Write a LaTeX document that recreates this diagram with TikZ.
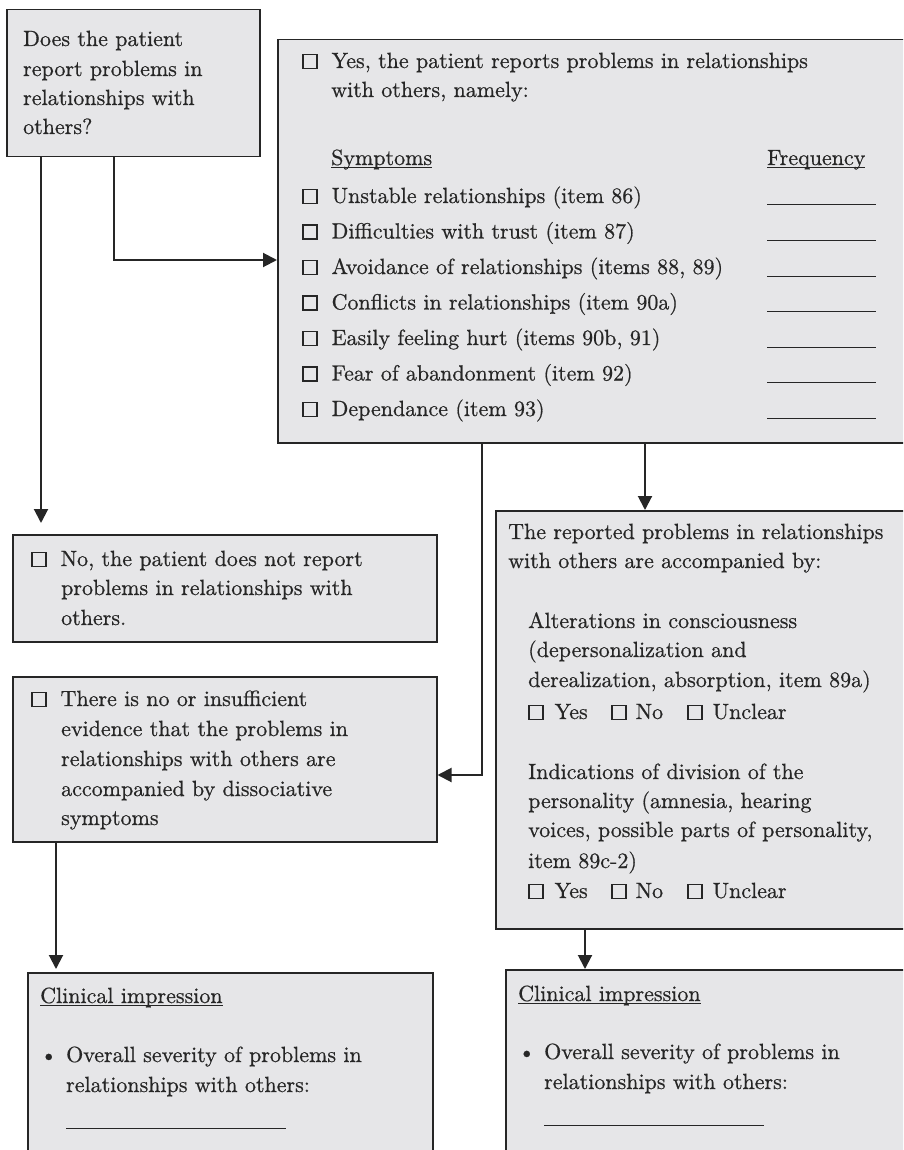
\documentclass[tikz,border=0pt]{standalone}
\usepackage{fontspec}
\setmainfont{lmroman10-regular.otf}[FakeBold=0.6]
\usetikzlibrary{arrows.meta,calc}
\definecolor{boxfill}{HTML}{E6E6E8}
\definecolor{ink}{HTML}{262626}
\newcommand\cbx{\raisebox{0.3pt}{\setlength\fboxsep{0pt}\setlength\fboxrule{1.4pt}\fbox{\rule{0pt}{12.6pt}\rule{12.6pt}{0pt}}}}
\newcommand\ulx[1]{\setbox0\hbox{#1}\rlap{\rule[-3pt]{\wd0}{0.9pt}}\box0}
\newcommand\ynu{\makebox[83pt][l]{\cbx\hspace{11pt}Yes}\makebox[76pt][l]{\cbx\hspace{9pt}No}\cbx\hspace{10pt}Unclear}
\begin{document}
\begin{tikzpicture}[x=1pt,y=-1pt,color=ink,
  font=\fontsize{22}{29}\selectfont,
  box/.style={draw=ink, line width=1.5pt, fill=boxfill, anchor=north west, inner sep=0pt},
  arr/.style={draw=ink, line width=2pt, -{Triangle[length=14pt,width=14pt]}},
  txt/.style={anchor=base west, inner sep=0pt},
  blank/.style={draw=ink, line width=1pt}]
\useasboundingbox (0,0) rectangle (903,1150);
\clip (0,0) rectangle (903,1150);

% boxes
\node[box, minimum width=253pt, minimum height=147pt] (A) at (6,9) {};
\node[box, minimum width=640pt, minimum height=403pt] (B) at (277,39) {};
\node[box, minimum width=424pt, minimum height=107pt] (C) at (12,534) {};
\node[box, minimum width=424pt, minimum height=165pt] (D) at (12,676) {};
\node[box, minimum width=420pt, minimum height=418pt] (E) at (495,510) {};
\node[box, minimum width=405pt, minimum height=200pt] (F) at (27,972) {};
\node[box, minimum width=420pt, minimum height=200pt] (G) at (505,969) {};

% connector coordinates
\coordinate (ac) at (41,0);
\coordinate (ab) at (114,260);
\coordinate (bd) at (482,775);
\coordinate (be) at (645,0);
\coordinate (df) at (56,0);
\coordinate (eg) at (585,0);

\draw[arr, shorten >=11pt] (A.south -| ac) -- (C.north -| ac);
\draw[arr] (A.south -| ab) |- (B.west |- ab);
\draw[arr] (B.south -| bd) |- (D.east |- bd);
\draw[arr] (B.south -| be) -- (E.north -| be);
\draw[arr, shorten >=3pt] (D.south -| df) -- (F.north -| df);
\draw[arr] (E.south -| eg) -- (G.north -| eg);

% box A text
\node[txt] (a1) at (23,46) {Does the patient};
\node[txt] (a2) at (23,76) {report problems in};
\node[txt] (a3) at (23,105) {relationships with};
\node[txt] (a4) at (23,134) {others?};

% box B text
\node[txt] (b1) at (302,68) {\cbx\hspace{14pt}Yes, the patient reports problems in relationships};
\node[txt] (b2) at (331,97) {with others, namely:};
\node[txt] (b3) at (331,165) {\ulx{Symptoms}};
\node[txt] (b4) at (767,165) {\ulx{Frequency}};
\node[txt] (s1) at (302,203) {\cbx\hspace{14pt}Unstable relationships (item 86)};
\node[txt] (s2) at (302,238.5) {\cbx\hspace{14pt}Difficulties with trust (item 87)};
\node[txt] (s3) at (302,274) {\cbx\hspace{14pt}Avoidance of relationships (items 88, 89)};
\node[txt] (s4) at (302,309.5) {\cbx\hspace{14pt}Conflicts in relationships (item 90a)};
\node[txt] (s5) at (302,345) {\cbx\hspace{14pt}Easily feeling hurt (items 90b, 91)};
\node[txt] (s6) at (302,380.5) {\cbx\hspace{14pt}Fear of abandonment (item 92)};
\node[txt] (s7) at (302,416) {\cbx\hspace{14pt}Dependance (item 93)};
\foreach \yy in {203,238.5,274,309.5,345,380.5,416}
  \draw[blank] (767,\yy+2) -- (876,\yy+2);

% box C text
\node[txt] (c1) at (31,566) {\cbx\hspace{14pt}No, the patient does not report};
\node[txt] (c2) at (61,595) {problems in relationships with};
\node[txt] (c3) at (61,625) {others.};

% box D text
\node[txt] (d1) at (31,706) {\cbx\hspace{14pt}There is no or insufficient};
\node[txt] (d2) at (61,736) {evidence that the problems in};
\node[txt] (d3) at (61,766) {relationships with others are};
\node[txt] (d4) at (61,796) {accompanied by dissociative};
\node[txt] (d5) at (61,825) {symptoms};

% box E text
\node[txt] (e1) at (508,539) {The reported problems in relationships};
\node[txt] (e2) at (508,568) {with others are accompanied by:};
\node[txt] (e3) at (528,628) {Alterations in consciousness};
\node[txt] (e4) at (528,657) {(depersonalization and};
\node[txt] (e5) at (528,687) {derealization, absorption, item 89a)};
\node[txt] (e6) at (528,719) {\ynu};
\node[txt] (e7) at (528,779) {Indications of division of the};
\node[txt] (e8) at (528,808) {personality (amnesia, hearing};
\node[txt] (e9) at (528,837) {voices, possible parts of personality,};
\node[txt] (e10) at (528,868) {item 89c-2)};
\node[txt] (e11) at (528,898) {\ynu};

% box F text
\node[txt] (f1) at (40,1003) {\ulx{Clinical impression}};
\node[txt] (f2) at (40,1062) {\makebox[26pt][l]{\textbullet}Overall severity of problems in};
\node[txt] (f3) at (66,1092) {relationships with others:};
\draw[blank] (66,1128) -- (286,1128);

% box G text
\node[txt] (g1) at (518,1001) {\ulx{Clinical impression}};
\node[txt] (g2) at (518,1059) {\makebox[26pt][l]{\textbullet}Overall severity of problems in};
\node[txt] (g3) at (544,1089) {relationships with others:};
\draw[blank] (544,1125) -- (764,1125);
\end{tikzpicture}
\end{document}
